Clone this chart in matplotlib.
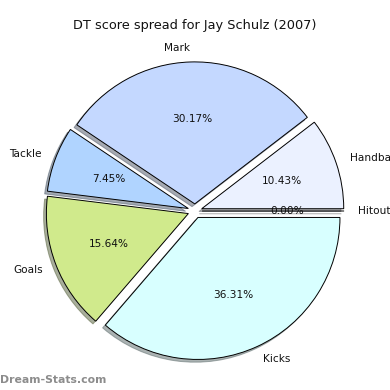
import matplotlib
matplotlib.use("Agg")
import matplotlib.pyplot as plt

labels = ["Handball", "Mark", "Tackle", "Goals", "Kicks", "Hitout"]
values = [10.43, 30.17, 7.45, 15.64, 36.31, 0.00]
colors = ["#ebf1ff", "#c4d8ff", "#b0d4ff", "#d0ea8c", "#d8ffff", "#e0e0e0"]
title = "DT score spread for Jay Schulz (2007)"
watermark = "Dream-Stats.com"

W = H = 390
fig = plt.figure(figsize=(W / 100, H / 100), dpi=100)

# pie centre (195, 211) px from top-left, radius 142 px
R = 142.0
cx, cy = 195.0, 211.0
lim = 1.25
half = lim * R
ax = fig.add_axes([(cx - half) / W, (H - cy - half) / H, 2 * half / W, 2 * half / H])

wedges, texts, autotexts = ax.pie(
    values, labels=labels, colors=colors, explode=[0.05] * len(values),
    startangle=0, counterclock=True, autopct="%.2f%%",
    shadow={"ox": -0.014, "oy": -0.014, "shade": 0.6},
    labeldistance=1.1, pctdistance=0.6,
    wedgeprops=dict(edgecolor="black", linewidth=0.7),
    textprops=dict(fontsize=7.6, color="#111111"),
)
ax.set_xlim(-lim, lim)
ax.set_ylim(-lim, lim)
ax.set_aspect("equal")
ax.axis("off")

fig.text(0.5, 1 - 25 / H, title, ha="center", va="center", fontsize=9.3, color="#111111")
fig.text(0.0, 1 - 380 / H, watermark, ha="left", va="center", fontsize=7.8,
         fontweight="semibold", color="#8c8c8c")

fig.savefig("out.png", dpi=100)
